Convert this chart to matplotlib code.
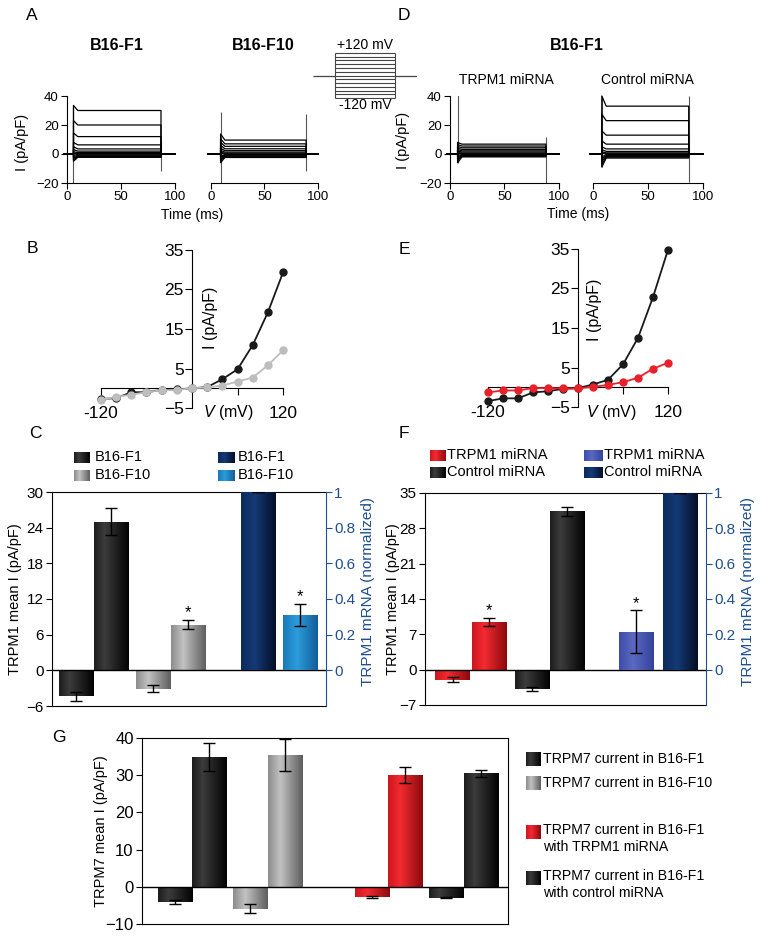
import numpy as np
import matplotlib
matplotlib.use('Agg')
import matplotlib.pyplot as plt
from matplotlib.colors import LinearSegmentedColormap

plt.rcParams['font.family'] = ['Liberation Sans', 'DejaVu Sans']
plt.rcParams['mathtext.fontset'] = 'custom'
plt.rcParams['mathtext.rm'] = 'Liberation Sans'
plt.rcParams['mathtext.it'] = 'Liberation Sans:italic'

# ---------------- data ----------------
# Voltage protocol steps (mV)
voltage_steps = [-120, -100, -80, -60, -40, -20, 0, 20, 40, 60, 80, 100, 120]

# Panel A / D current traces (pA/pF): pulse on/off times (ms), steady levels, initial peaks
a_f1_onoff = [6, 87]
a_f1_levels = [30, 20, 12, 6.3, 3.5, 2.0, 1.0, 0.4, -0.2, -0.8, -1.3, -1.8, -2.3]
a_f1_peaks = [33.5, 23, 14.5, 8, 5, 3, 1.5, 0.5, -1, -2, -3, -4, -5]
a_f1_art_t = [6, 87]
a_f1_art_lo = [-20, -12]
a_f1_art_hi = [33, 9]

a_f10_onoff = [9, 89]
a_f10_levels = [9.6, 7.0, 5.3, 3.6, 2.3, 1.3, 0.6, 0.1, -0.4, -0.9, -1.4, -1.9, -2.4]
a_f10_peaks = [13.8, 10.5, 8, 6, 4, 2.5, 1.2, 0.3, -1.5, -2.5, -3.5, -4.5, -6]
a_f10_art_t = [9, 89]
a_f10_art_lo = [-20, -11.5]
a_f10_art_hi = [29, 27.5]

d_trpm1_onoff = [7, 88]
d_trpm1_levels = [6.8, 5.5, 4.3, 3.2, 2.2, 1.4, 0.7, 0.2, -0.3, -0.8, -1.2, -1.6, -2.0]
d_trpm1_peaks = [8, 6.5, 5.2, 4, 3, 2, 1, 0.3, -1, -2, -3, -4.5, -6]
d_trpm1_art_t = [7, 88]
d_trpm1_art_lo = [-6, -20]
d_trpm1_art_hi = [41, 12]

d_ctrl_onoff = [8, 87]
d_ctrl_levels = [33, 23, 13, 6.8, 3.5, 1.8, 0.8, 0.2, -0.4, -1.0, -1.6, -2.2, -2.8]
d_ctrl_peaks = [40, 27.5, 16, 9, 5, 3, 1.5, 0.5, -2, -3.5, -5, -7, -9]
d_ctrl_art_t = [8, 87]
d_ctrl_art_lo = [-9, -19]
d_ctrl_art_hi = [40, 40]

# Panel B / E I-V curves
iv_v = [-120, -100, -80, -60, -40, -20, 0, 20, 40, 60, 80, 100, 120]
b_f1 = [-2.7, -2.5, -1.0, -1.0, -0.4, -0.3, 0.0, 0.3, 2.3, 4.8, 10.9, 19.2, 29.3]
b_f10 = [-2.9, -2.2, -1.6, -1.0, -0.5, -0.4, 0.0, 0.2, 0.7, 1.7, 2.7, 5.8, 9.6]
e_ctrl = [-3.5, -2.8, -2.8, -1.3, -1.0, -0.4, -0.2, 0.7, 1.9, 5.8, 12.5, 22.8, 34.8]
e_trpm1 = [-1.3, -0.8, -0.8, -0.2, -0.2, -0.3, -0.3, 0.1, 0.6, 1.3, 2.4, 4.7, 6.2]

# Panel C: TRPM1 currents and mRNA (B16-F1, B16-F10)
c_labels = ['B16-F1', 'B16-F10']
c_inward = [-4.4, -3.1]
c_inward_err = [0.8, 0.6]
c_outward = [25.0, 7.7]
c_outward_err = [2.3, 0.75]
c_mrna = [1.0, 0.31]
c_mrna_err = [0.0, 0.06]

# Panel F: TRPM1 miRNA vs control miRNA
f_labels = ['TRPM1 miRNA', 'Control miRNA']
f_inward = [-2.0, -3.8]
f_inward_err = [0.5, 0.4]
f_outward = [9.5, 31.4]
f_outward_err = [0.8, 0.9]
f_mrna = [0.215, 1.0]
f_mrna_err = [0.12, 0.0]

# Panel G: TRPM7 currents
g_labels = ['TRPM7 current in B16-F1', 'TRPM7 current in B16-F10',
            'TRPM7 current in B16-F1\nwith TRPM1 miRNA',
            'TRPM7 current in B16-F1\nwith control miRNA']
g_inward = [-4.0, -5.9, -2.7, -2.9]
g_inward_err = [0.5, 1.2, 0.2, 0.2]
g_outward = [34.9, 35.4, 30.0, 30.5]
g_outward_err = [3.7, 4.3, 2.2, 0.9]

# ---------------- styles ----------------
W, H = 762, 941
fig = plt.figure(figsize=(W / 100, H / 100), dpi=100)

BLACK_G = [(0, '#1c1c1c'), (0.3, '#3c3c3c'), (1, '#020202')]
GRAY_G = [(0, '#8c8c8c'), (0.35, '#c2c2c2'), (1, '#5e5e5e')]
RED_G = [(0, '#cc161e'), (0.35, '#f42a30'), (1, '#8a0a0e')]
NAVY_G = [(0, '#0c2a5c'), (0.4, '#143a76'), (1, '#040e26')]
LBLUE_G = [(0, '#1a78b8'), (0.4, '#2c9cdc'), (1, '#125e98')]
BLUE_G = [(0, '#3c4ca8'), (0.4, '#5a6ac2'), (1, '#33429a')]
AXBLUE = '#1f4f8f'
GRAD = np.linspace(0, 1, 128)[None, :]


def cmap_of(stops):
    return LinearSegmentedColormap.from_list('g', stops)


def add_ax(x0, y0, x1, y1):
    return fig.add_axes([x0 / W, 1 - y1 / H, (x1 - x0) / W, (y1 - y0) / H])


def gbar(ax, xs, hs, errs, grads, w=1.0, z=2):
    bars = ax.bar(xs, hs, w, color='none', edgecolor='none', zorder=z)
    for b, g in zip(bars, grads):
        x0, y0, bw, bh = b.get_x(), b.get_y(), b.get_width(), b.get_height()
        im = ax.imshow(GRAD, cmap=cmap_of(g), extent=[x0, x0 + bw, y0, y0 + bh],
                       aspect='auto', zorder=z, interpolation='bilinear')
        im.set_clip_path(b)
    ax.errorbar(xs, hs, yerr=errs, fmt='none', ecolor='black', elinewidth=1,
                capsize=4, capthick=1, zorder=z + 2)
    return bars


def star(ax, x, top):
    ax.annotate('*', (x, top), xytext=(0, 2), textcoords='offset points',
                ha='center', va='baseline', fontsize=12, zorder=6)


def trace_axes(ax, show_y):
    ax.set_xlim(-5, 102)
    ax.set_ylim(-20, 40)
    ax.patch.set_visible(False)
    ax.spines[['top', 'right']].set_visible(False)
    ax.spines['bottom'].set_bounds(0, 100)
    ax.set_xticks([0, 50, 100])
    ax.tick_params(labelsize=9.5, length=4, pad=2)
    if show_y:
        ax.spines['left'].set_position(('data', 0))
        ax.spines['left'].set_bounds(-20, 40)
        ax.set_yticks([-20, 0, 20, 40])
    else:
        ax.spines['left'].set_visible(False)
        ax.set_yticks([])


def draw_traces(ax, onoff, levels, peaks, art_t, art_lo, art_hi):
    on, off = onoff
    ax.vlines(art_t, art_lo, art_hi, color='#555555', lw=0.8, zorder=1)
    for lv, pk in zip(levels, peaks):
        ax.plot([-3, on, on, on + 4, off, off, 100], [0, 0, pk, lv, lv, 0, 0],
                color='black', lw=0.9, clip_on=False, zorder=2)


# ---------------- Panel A ----------------
axA1 = add_ax(61.6, 96, 177.2, 183)
trace_axes(axA1, True)
draw_traces(axA1, a_f1_onoff, a_f1_levels, a_f1_peaks, a_f1_art_t, a_f1_art_lo, a_f1_art_hi)
axA2 = add_ax(205.6, 96, 320.1, 183)
trace_axes(axA2, False)
draw_traces(axA2, a_f10_onoff, a_f10_levels, a_f10_peaks, a_f10_art_t, a_f10_art_lo, a_f10_art_hi)

# protocol
axP = add_ax(313, 52, 417, 99)
axP.set_xlim(-37, 137)
axP.set_ylim(-125, 125)
axP.axis('off')
axP.hlines(voltage_steps, 0, 100, color='#444444', lw=0.8)
axP.vlines([0, 100], min(voltage_steps), max(voltage_steps), color='#444444', lw=0.8)
axP.hlines([0, 0], [-37, 100], [0, 137], color='#444444', lw=0.9)

# ---------------- Panel D ----------------
axD1 = add_ax(444.5, 96, 561.2, 183)
trace_axes(axD1, True)
draw_traces(axD1, d_trpm1_onoff, d_trpm1_levels, d_trpm1_peaks, d_trpm1_art_t, d_trpm1_art_lo, d_trpm1_art_hi)
axD2 = add_ax(587.5, 96, 705.2, 183)
trace_axes(axD2, False)
draw_traces(axD2, d_ctrl_onoff, d_ctrl_levels, d_ctrl_peaks, d_ctrl_art_t, d_ctrl_art_lo, d_ctrl_art_hi)


# ---------------- Panels B, E ----------------
def iv_axes(ax):
    ax.set_xlim(-130, 130)
    ax.set_ylim(-6, 36)
    ax.patch.set_visible(False)
    ax.spines[['top', 'right']].set_visible(False)
    ax.spines['left'].set_position(('data', 0))
    ax.spines['left'].set_bounds(-5, 35)
    ax.spines['bottom'].set_position(('data', 0))
    ax.spines['bottom'].set_bounds(-120, 120)
    ax.set_yticks([-5, 5, 15, 25, 35])
    ax.set_xticks([-120, -60, 60, 120])
    ax.set_xticklabels(['-120', '', '', '120'])
    ax.tick_params(axis='y', labelsize=12.5, length=5, pad=1)
    ax.tick_params(axis='x', labelsize=12.5, length=5, pad=8)


axB = add_ax(93.4, 246, 290.6, 412)
iv_axes(axB)
axB.plot(iv_v, b_f1, '-o', color='#1a1a1a', ms=5, lw=1.3, clip_on=False, zorder=3)
axB.plot(iv_v, b_f10, '-o', color='#bdbdbd', ms=5, lw=1.3, clip_on=False, zorder=4)

axE = add_ax(480.5, 245, 675.5, 411)
iv_axes(axE)
axE.plot(iv_v, e_ctrl, '-o', color='#1a1a1a', ms=5, lw=1.3, clip_on=False, zorder=3)
axE.plot(iv_v, e_trpm1, '-o', color='#e8202a', ms=5, lw=1.3, clip_on=False, zorder=4)


# ---------------- Panels C, F ----------------
def dual_axes(ax, ax2, ylim, yticks):
    ax.set_ylim(*ylim)
    ax.set_yticks(yticks)
    ax.set_xticks([])
    ax.spines['right'].set_visible(False)
    ax.tick_params(axis='y', labelsize=11, length=4, pad=2)
    ax.axhline(0, color='black', lw=1, zorder=3)
    ax2.set_ylim(-0.2, 1)
    ax2.set_yticks([0, 0.2, 0.4, 0.6, 0.8, 1])
    ax2.set_yticklabels(['0', '0.2', '0.4', '0.6', '0.8', '1'])
    ax2.tick_params(axis='y', labelsize=11, length=4, pad=2, colors=AXBLUE)
    for s in ['left', 'top', 'bottom']:
        ax2.spines[s].set_visible(False)
    ax2.spines['right'].set_color(AXBLUE)


axC = add_ax(52, 492, 326, 706)
axC2 = axC.twinx()
c_in_pos = [0.7, 2.9]
c_out_pos = [1.7, 3.9]
c_mrna_pos = [5.9, 7.1]
gbar(axC, c_in_pos, c_inward, c_inward_err, [BLACK_G, GRAY_G])
gbar(axC, c_out_pos, c_outward, c_outward_err, [BLACK_G, GRAY_G])
gbar(axC2, c_mrna_pos, c_mrna, c_mrna_err, [NAVY_G, LBLUE_G])
dual_axes(axC, axC2, (-6, 30), [-6, 0, 6, 12, 18, 24, 30])
axC.set_xlim(0, 7.83)
star(axC, c_out_pos[1], c_outward[1] + c_outward_err[1])
star(axC2, c_mrna_pos[1], c_mrna[1] + c_mrna_err[1])

axF = add_ax(425, 493, 706, 705)
axF2 = axF.twinx()
f_in_pos = [0.8, 3.06]
f_out_pos = [1.83, 4.06]
f_mrna_pos = [6.03, 7.29]
gbar(axF, f_in_pos, f_inward, f_inward_err, [RED_G, BLACK_G])
gbar(axF, f_out_pos, f_outward, f_outward_err, [RED_G, BLACK_G])
gbar(axF2, f_mrna_pos, f_mrna, f_mrna_err, [BLUE_G, NAVY_G])
dual_axes(axF, axF2, (-7, 35), [-7, 0, 7, 14, 21, 28, 35])
axF.set_xlim(0, 8.03)
star(axF, f_out_pos[0], f_outward[0] + f_outward_err[0])
star(axF2, f_mrna_pos[0], f_mrna[0] + f_mrna_err[0])

# ---------------- Panel G ----------------
axG = add_ax(142, 738, 508, 924)
g_in_pos = [0.97, 3.18, 6.76, 8.94]
g_out_pos = [1.97, 4.21, 7.74, 9.97]
g_grads = [BLACK_G, GRAY_G, RED_G, BLACK_G]
gbar(axG, g_in_pos, g_inward, g_inward_err, g_grads)
gbar(axG, g_out_pos, g_outward, g_outward_err, g_grads)
axG.set_xlim(0, 10.76)
axG.set_ylim(-10, 40)
axG.set_yticks([-10, 0, 10, 20, 30, 40])
axG.set_xticks([])
axG.axhline(0, color='black', lw=1, zorder=3)
axG.tick_params(axis='y', labelsize=12, length=4, pad=2)

# ---------------- overlay: labels, legends ----------------
ov = fig.add_axes([0, 0, 1, 1])
ov.patch.set_visible(False)
ov.axis('off')


def T(x, y, s, **kw):
    kw.setdefault('ha', 'center')
    kw.setdefault('va', 'center')
    ov.text(x, y, s, **kw)


def swatch(x0, x1, yc, h, grad):
    ov.imshow(GRAD, cmap=cmap_of(grad), extent=[x0, x1, yc + h / 2, yc - h / 2],
              aspect='auto', interpolation='bilinear')


for lab, x, y in [('A', 32, 15), ('D', 404, 15), ('B', 32, 248), ('E', 404, 249),
                  ('C', 35, 433), ('F', 404, 433), ('G', 59, 738)]:
    T(x, y, lab, fontsize=12.5)

T(117, 45, 'B16-F1', fontsize=11.5, fontweight='bold')
T(263, 45, 'B16-F10', fontsize=11.5, fontweight='bold')
T(577, 45, 'B16-F1', fontsize=11.5, fontweight='bold')
T(365, 45, '+120 mV', fontsize=10)
T(365, 105, '-120 mV', fontsize=10)
T(506, 80, 'TRPM1 miRNA', fontsize=10)
T(647, 80, 'Control miRNA', fontsize=10)
T(22, 142, 'I (pA/pF)', fontsize=10.5, rotation=90)
T(403, 140, 'I (pA/pF)', fontsize=10.5, rotation=90)
T(192, 215, 'Time (ms)', fontsize=10)
T(578, 214, 'Time (ms)', fontsize=10)

T(210, 318, 'I (pA/pF)', fontsize=11.5, rotation=90)
T(228, 413, r'$V$ (mV)', fontsize=11.5)
T(594, 310, 'I (pA/pF)', fontsize=11.5, rotation=90)
T(611, 413, r'$V$ (mV)', fontsize=11.5)

T(15, 599, 'TRPM1 mean I (pA/pF)', fontsize=10.5, rotation=90)
T(368, 591, 'TRPM1 mRNA (normalized)', fontsize=11, rotation=90, color=AXBLUE)
T(393, 599, 'TRPM1 mean I (pA/pF)', fontsize=10.5, rotation=90)
T(748, 591, 'TRPM1 mRNA (normalized)', fontsize=11, rotation=90, color=AXBLUE)
T(101, 831, 'TRPM7 mean I (pA/pF)', fontsize=10.5, rotation=90)

# C legend
for (yc, lab, g) in [(457, c_labels[0], BLACK_G), (475, c_labels[1], GRAY_G)]:
    swatch(74, 90, yc, 11, g)
    T(95, yc, lab, fontsize=10.5, ha='left')
for (yc, lab, g) in [(457, c_labels[0], NAVY_G), (475, c_labels[1], LBLUE_G)]:
    swatch(218, 235, yc, 11, g)
    T(238, yc, lab, fontsize=10.5, ha='left')

# F legend
for (yc, lab, g) in [(455, f_labels[0], RED_G), (472, f_labels[1], BLACK_G)]:
    swatch(430, 446, yc, 11, g)
    T(447, yc, lab, fontsize=10.5, ha='left')
for (yc, lab, g) in [(455, f_labels[0], BLUE_G), (472, f_labels[1], NAVY_G)]:
    swatch(584, 603, yc, 11, g)
    T(604, yc, lab, fontsize=10.5, ha='left')

# G legend
for (yc, lab, g) in zip([759, 783, 832, 878], g_labels, g_grads):
    swatch(526, 541, yc, 14, g)
    if '\n' in lab:
        ov.text(543, yc - 9, lab, fontsize=10.2, ha='left', va='top', linespacing=1.25)
    else:
        T(543, yc, lab, fontsize=10.2, ha='left')

ov.set_xlim(0, W)
ov.set_ylim(H, 0)

fig.savefig('out.png', dpi=100)
